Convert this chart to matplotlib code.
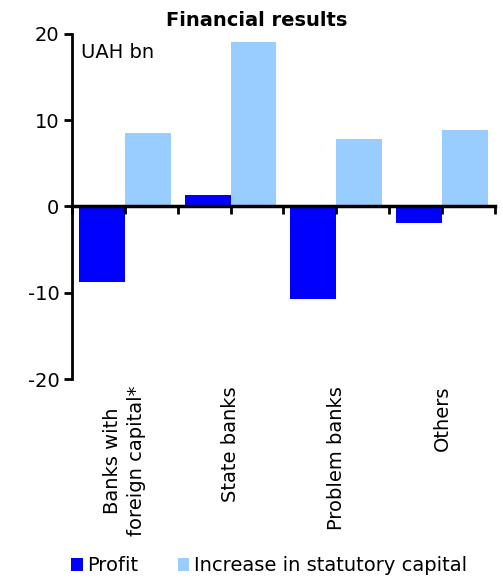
import matplotlib.pyplot as plt
import numpy as np

plt.rcParams.update({
    'font.family': 'DejaVu Sans',
    'font.size': 14,
    'axes.unicode_minus': False,
})

categories = ['Banks with\nforeign capital*', 'State banks', 'Problem banks', 'Others']
profit = [-8.7, 1.3, -10.7, -1.9]
capital_increase = [8.5, 19.1, 7.8, 8.9]
series_names = ['Profit', 'Increase in statutory capital']
colors = ['#0000FF', '#99CCFF']

fig = plt.figure(figsize=(5.03, 5.84), dpi=100)
ax = fig.add_axes([0.143, 0.351, 0.841, 0.591])

x = np.arange(len(categories))
width = 0.434

ax.bar(x - width / 2, profit, width, color=colors[0], label=series_names[0])
ax.bar(x + width / 2, capital_increase, width, color=colors[1], label=series_names[1])

ax.set_xlim(-0.5, len(categories) - 0.5)
ax.set_ylim(-20, 20)
ax.set_yticks([-20, -10, 0, 10, 20])
ax.tick_params(axis='y', direction='out', length=6, width=2, labelsize=14, pad=3)

# horizontal axis sits on zero, with ticks at boundaries and centres
ax.spines['bottom'].set_position(('data', 0))
ax.spines['bottom'].set_linewidth(2.5)
ax.spines['left'].set_linewidth(2)
ax.spines['top'].set_visible(False)
ax.spines['right'].set_visible(False)
ax.set_xticks(np.arange(-0.5, len(categories), 0.5))
ax.tick_params(axis='x', direction='out', length=6, width=2, labelbottom=False)

for i, cat in enumerate(categories):
    ax.annotate(cat, xy=(i, -20), xycoords='data', xytext=(0, -5),
                textcoords='offset points', rotation=90, ha='center', va='top',
                multialignment='center', fontsize=14, linespacing=1.35)

ax.text(0.022, 0.975, 'UAH bn', transform=ax.transAxes, ha='left', va='top', fontsize=14)

fig.text(0.511, 0.982, 'Financial results', ha='center', va='top',
         fontsize=14, fontweight='bold')

fig.legend(loc='lower center', bbox_to_anchor=(0.535, -0.015), ncol=2, frameon=False,
           handlelength=0.6, handleheight=0.6, handletextpad=0.25, columnspacing=2.0,
           fontsize=14)

fig.savefig('out.png', dpi=100, facecolor='white')
